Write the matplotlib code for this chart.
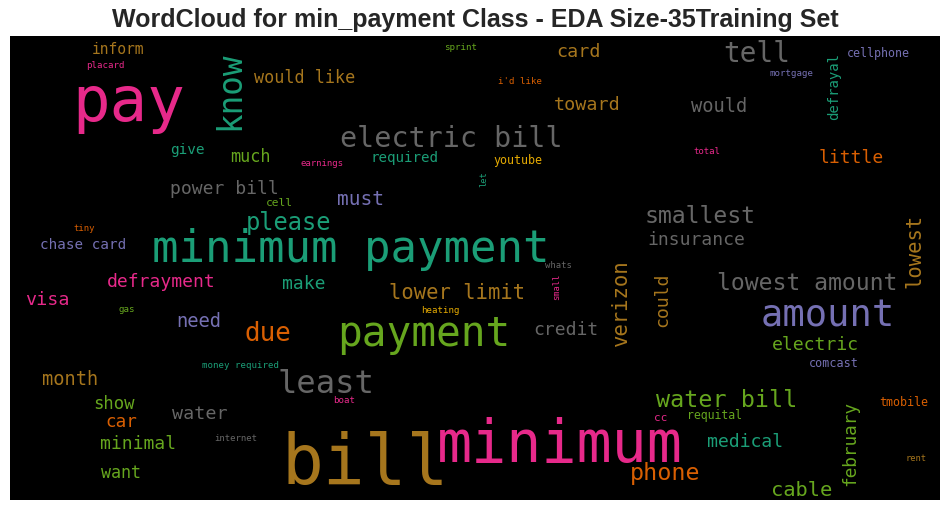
import matplotlib
matplotlib.use("Agg")
import matplotlib.pyplot as plt

# ---- data: words, their relative weight (font size in pt) and colour index (Dark2) ----
words = ["pay", "know", "would like", "inform", "placard", "sprint", "card", "tell",
         "cellphone", "defrayal", "mortgage", "i'd like", "toward", "would",
         "electric bill", "give", "much", "earnings", "required", "total", "little",
         "youtube", "let", "power bill", "cell", "must", "please", "tiny",
         "chase card", "minimum payment", "smallest", "insurance", "lowest",
         "defrayment", "make", "lower limit", "visa", "gas", "heating", "need",
         "due", "payment", "whats", "small", "verizon", "could", "credit",
         "lowest amount", "amount", "electric", "comcast", "money required",
         "month", "least", "boat", "show", "water", "car", "internet", "minimal",
         "want", "bill", "minimum", "water bill", "tmobile", "cc", "requital",
         "february", "medical", "phone", "cable", "rent"]
weights = [45, 23.5, 12.1, 10.5, 6.6, 6.6, 13.2, 20, 8.4, 10.1, 6.6, 6.6, 13.2, 13.5,
           20.4, 10.4, 12.2, 6.5, 10.2, 6.5, 13, 8.4, 6.3, 13, 8.1, 14, 17.1, 6.5,
           10.3, 31.7, 16.7, 13, 14.8,
           13, 13, 14.8, 13.2, 6.6, 6.6, 13.5,
           18.6, 29.6, 6.4, 6.3, 14.9, 13.1, 13,
           16.7, 26.7, 13.1, 8.5, 6.6,
           13.4, 23.2, 6.6, 12.4, 13.2, 12.7, 6.5, 13,
           12, 50, 42, 16.8, 8.4, 8, 8.3,
           12.8, 13.1, 16.8, 14.7, 6.3]
# Dark2: 0 teal,1 orange,2 purple,3 pink,4 green,5 yellow,6 brown,7 gray
color_idx = [3, 0, 6, 6, 3, 4, 6, 7, 2, 0, 2, 1, 6, 7,
             7, 0, 4, 3, 0, 3, 1, 5, 0, 7, 4, 2, 0, 1,
             2, 0, 7, 7, 6,
             3, 0, 6, 3, 4, 5, 2,
             1, 4, 7, 3, 6, 6, 7,
             7, 2, 4, 2, 0,
             6, 7, 3, 4, 7, 1, 7, 4,
             4, 6, 3, 4, 1, 3, 4,
             4, 0, 1, 4, 6]
palette = ["#1b9e77", "#d95f02", "#7570b3", "#e7298a",
           "#66a61e", "#e6ab02", "#a6761d", "#666666"]

# ---- layout (word-cloud placement): x centre, baseline y, rotation ----
layout = [(129, 120.7, 0), (239, 90.5, 90), (304.5, 83.3, 0), (117.5, 54, 0),
          (105.5, 68, 0), (461, 50, 0), (578.3, 57.3, 0), (757, 61.7, 0),
          (878.3, 56.7, 0), (838.3, 86.3, 90), (791.7, 76, 0), (520, 84, 0),
          (587, 110, 0), (718.8, 112.3, 0),
          (451, 147.3, 0), (187, 154, 0), (250.5, 162.3, 0), (322, 166, 0),
          (404, 162.3, 0), (707, 154.3, 0), (851.7, 163.3, 0), (517.8, 164, 0),
          (486, 179, 90), (224, 194.3, 0), (279.7, 205.7, 0), (360, 205, 0),
          (288.3, 230, 0), (83.7, 230.7, 0),
          (82.8, 249.3, 0), (351, 262, 0), (700.5, 222.7, 0), (696, 245, 0),
          (920, 251, 90),
          (161.7, 287.3, 0), (303.5, 289.3, 0), (456.7, 299.3, 0), (47.8, 305, 0),
          (127.2, 312.3, 0), (440.5, 312.7, 0), (199.2, 326.7, 0),
          (268, 340.7, 0), (424.2, 346, 0), (558.8, 268.3, 0), (559, 286.7, 90),
          (627, 302.5, 90), (667, 299.7, 90), (566, 335, 0),
          (807.5, 290, 0), (827.7, 326, 0), (815.5, 350, 0), (834.2, 367.3, 0),
          (240.5, 368.3, 0),
          (69.7, 385, 0), (326, 393.3, 0), (343.8, 403.3, 0), (114.2, 409, 0),
          (200, 419, 0), (121.7, 427.3, 0), (236.2, 440.7, 0), (138, 449.3, 0),
          (120.8, 477.7, 0), (365, 484, 0), (560, 461.7, 0), (726.2, 406.7, 0),
          (903.8, 406, 0), (661.2, 420.7, 0), (714.5, 419, 0),
          (855, 443.3, 90), (745, 446.7, 0), (665.5, 480, 0), (801.3, 496, 0),
          (916, 460.7, 0)]

W, H = 950, 511
fig = plt.figure(figsize=(W / 100, H / 100), dpi=100)
fig.patch.set_facecolor("white")
ax = fig.add_axes([10 / W, (H - 500) / H, 930 / W, 464 / H])
ax.set_facecolor("black")
ax.set_xlim(10, 940)
ax.set_ylim(500, 36)
ax.set_xticks([])
ax.set_yticks([])
for s in ax.spines.values():
    s.set_visible(False)

for w, sz, ci, (x, y, r) in zip(words, weights, color_idx, layout):
    ax.text(x, y, w, fontsize=sz, color=palette[ci], family="DejaVu Sans Mono",
            ha="center", va="baseline", rotation=r, rotation_mode="anchor",
            clip_on=True)

fig.text(0.5, 1 - 20 / H, "WordCloud for min_payment Class - EDA Size-35Training Set",
         ha="center", va="center", fontsize=18, fontweight="bold",
         color="#262626", family="Liberation Sans")

fig.savefig("out.png", dpi=100)
